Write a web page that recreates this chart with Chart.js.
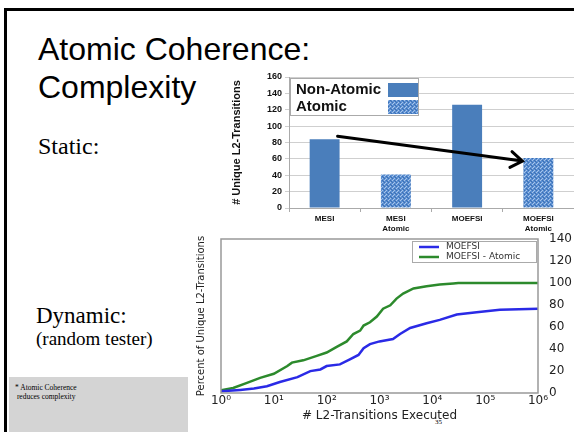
<!DOCTYPE html>
<html>
<head>
<meta charset="utf-8">
<script src="https://cdn.jsdelivr.net/npm/chart.js@4.4.0/dist/chart.umd.min.js"></script>
<style>
  body { margin: 0; width: 574px; height: 432px; overflow: hidden; background: #fff; position: relative; }
  #frame { position: absolute; left: 4px; top: 8px; width: 620px; height: 480px; border-left: 3px solid #000; border-top: 3px solid #000; }
  .t { position: absolute; white-space: nowrap; line-height: 1; color: #000; }
  .sans { font-family: "Liberation Sans", Arial, sans-serif; }
  .serif { font-family: "Liberation Serif", "Times New Roman", serif; }
  #note { position: absolute; left: 9px; top: 377px; width: 179px; height: 55px; background: #d4d4d4; }
  canvas { position: absolute; }
  #bars { left: 230px; top: 66px; }
  #lines { left: 195px; top: 226px; }
</style>
</head>
<body>
<div id="frame"></div>
<div class="t sans" style="left:38px; top:33px; font-size:32px;">Atomic Coherence:</div>
<div class="t sans" style="left:38px; top:71px; font-size:32px;">Complexity</div>
<div class="t serif" style="left:38px; top:134px; font-size:24px;">Static:</div>
<div class="t serif" style="left:36px; top:304px; font-size:23px;">Dynamic:</div>
<div class="t serif" style="left:36px; top:329px; font-size:19px;">(random tester)</div>
<div id="note"></div>
<div class="t serif" style="left:15px; top:383px; font-size:7.5px; line-height:9px;">* Atomic Coherence<br>&nbsp;reduces complexity</div>
<div class="t serif" style="left:435px; top:419px; font-size:7px;">35</div>

<canvas id="bars" width="344" height="170"></canvas>
<canvas id="lines" width="379" height="206"></canvas>

<script>
// static: unique L2 transitions per protocol
const barLabels = [['MESI'], ['MESI', 'Atomic'], ['MOEFSI'], ['MOEFSI', 'Atomic']];
const nonAtomic = [84, null, 126, null];
const atomic = [null, 41, null, 61];

// dynamic: random tester, percent of unique transitions vs executed transitions
const blueX = [1, 2.3, 4.2, 7.4, 13, 28, 49, 76, 100, 178, 275, 400, 500, 660, 1000, 1800, 2450, 3800, 7800, 13800, 29000, 69000, 190000, 1000000];
const blueY = [1.5, 2.8, 4, 6.1, 10, 14.4, 19.9, 21.4, 24.5, 26, 30.6, 34.6, 40.7, 44.4, 46.9, 49, 53.6, 59.1, 63.4, 66.5, 71.4, 73.5, 75.7, 76.6];
const greenX = [1, 1.7, 3.1, 5.5, 10, 18, 22, 36, 65, 100, 155, 240, 320, 430, 500, 660, 890, 1170, 1600, 2100, 2800, 4400, 7800, 13800, 25000, 31000, 1000000];
const greenY = [2.5, 4.6, 9.2, 13.8, 17.5, 24.5, 27.6, 29.7, 33.7, 36.8, 42, 46.9, 53.6, 56.7, 61.3, 64.3, 69.5, 76.6, 79.7, 85.8, 90.4, 95, 97.1, 98.6, 99.6, 100, 100];
const decades = [1, 10, 100, 1000, 10000, 100000, 1000000];
const decadeLabels = ['10⁰', '10¹', '10²', '10³', '10⁴', '10⁵', '10⁶'];

function dotPattern(ctx) {
  const c = document.createElement('canvas');
  c.width = 4; c.height = 4;
  const g = c.getContext('2d');
  g.fillStyle = '#5b8fd2'; g.fillRect(0, 0, 4, 4);
  g.fillStyle = '#a8c4e8'; g.fillRect(0, 0, 1, 1); g.fillRect(2, 2, 1, 1); g.fillRect(3, 1, 1, 1);
  g.fillStyle = '#3d70b3'; g.fillRect(2, 0, 1, 1); g.fillRect(0, 2, 1, 1); g.fillRect(1, 3, 1, 1);
  return ctx.createPattern(c, 'repeat');
}

const barExtras = {
  id: 'barExtras',
  afterDatasetsDraw(chart) {
    const ctx = chart.ctx;
    const a = chart.chartArea;
    // legend box, swatch after the text
    ctx.save();
    ctx.fillStyle = '#fff';
    ctx.strokeStyle = '#aaa';
    ctx.lineWidth = 1;
    ctx.fillRect(a.left + 1, a.top + 1, 128, 37);
    ctx.strokeRect(a.left + 1.5, a.top + 1.5, 128, 37);
    ctx.font = 'bold 15px "Liberation Sans", Arial';
    ctx.textBaseline = 'middle';
    chart.data.datasets.forEach((ds, i) => {
      const y = a.top + 13 + i * 17;
      ctx.fillStyle = '#111';
      ctx.fillText(ds.label, a.left + 7, y);
      ctx.fillStyle = ds.backgroundColor;
      ctx.fillRect(a.left + 99, y - 7, 30, 14);
    });
    // arrow from MESI bar to MOEFSI Atomic bar
    const b0 = chart.getDatasetMeta(0).data[0];
    const b3 = chart.getDatasetMeta(1).data[3];
    const x1 = b0.x + b0.width / 2 - 2, y1 = b0.y - 3;
    const x2 = b3.x - b3.width / 2 - 1, y2 = b3.y + 3;
    const ang = Math.atan2(y2 - y1, x2 - x1);
    ctx.strokeStyle = '#000';
    ctx.lineWidth = 3;
    ctx.lineCap = 'round';
    ctx.beginPath();
    ctx.moveTo(x1, y1);
    ctx.lineTo(x2, y2);
    ctx.moveTo(x2 - 14 * Math.cos(ang - 0.6), y2 - 14 * Math.sin(ang - 0.6));
    ctx.lineTo(x2, y2);
    ctx.lineTo(x2 - 14 * Math.cos(ang + 0.6), y2 - 14 * Math.sin(ang + 0.6));
    ctx.stroke();
    ctx.restore();
  }
};

const barCtx = document.getElementById('bars').getContext('2d');
new Chart(barCtx, {
  type: 'bar',
  data: {
    labels: barLabels,
    datasets: [
      { label: 'Non-Atomic', data: nonAtomic, backgroundColor: '#4a7ebb', grouped: false, barPercentage: 0.42, categoryPercentage: 1 },
      { label: 'Atomic', data: atomic, backgroundColor: dotPattern(barCtx), grouped: false, barPercentage: 0.42, categoryPercentage: 1 }
    ]
  },
  options: {
    responsive: false,
    animation: false,
    layout: { padding: { top: 11, right: 0 } },
    plugins: { legend: { display: false }, tooltip: { enabled: false } },
    scales: {
      x: {
        grid: { drawOnChartArea: false, offset: true, tickLength: 4, color: '#aaa' },
        border: { color: '#aaa' },
        ticks: { font: { family: 'Liberation Sans', size: 8, weight: 'bold' }, color: '#111', maxRotation: 0, autoSkip: false, padding: 2 },
        afterFit: s => { s.height = 28; }
      },
      y: {
        min: 0, max: 160,
        ticks: { stepSize: 20, font: { family: 'Liberation Sans', size: 9, weight: 'bold' }, color: '#111', padding: 3 },
        grid: { color: '#cfcfcf', tickLength: 4 },
        border: { color: '#aaa' },
        title: { display: true, text: '# Unique L2-Transitions', font: { family: 'Liberation Sans', size: 11, weight: 'bold' }, color: '#111', padding: 0 },
        afterFit: s => { s.width = 59; }
      }
    }
  },
  plugins: [barExtras]
});

const lineExtras = {
  id: 'lineExtras',
  afterDatasetsDraw(chart) {
    const ctx = chart.ctx;
    const a = chart.chartArea;
    ctx.save();
    ctx.strokeStyle = '#999';
    ctx.lineWidth = 1.5;
    ctx.strokeRect(a.left, a.top, a.right - a.left, a.bottom - a.top);
    // legend, upper right
    const w = 124, h = 21, lx = a.right - w - 2, ly = a.top + 2;
    ctx.fillStyle = '#fff';
    ctx.fillRect(lx, ly, w, h);
    ctx.strokeStyle = '#aaa';
    ctx.lineWidth = 1;
    ctx.strokeRect(lx + 0.5, ly + 0.5, w, h);
    ctx.font = '9px "DejaVu Sans"';
    ctx.textBaseline = 'middle';
    chart.data.datasets.forEach((ds, i) => {
      const y = ly + 6 + i * 10;
      ctx.strokeStyle = ds.borderColor;
      ctx.lineWidth = 2.5;
      ctx.beginPath();
      ctx.moveTo(lx + 7, y);
      ctx.lineTo(lx + 27, y);
      ctx.stroke();
      ctx.fillStyle = '#333';
      ctx.fillText(ds.label, lx + 34, y);
    });
    ctx.restore();
  }
};

const tickFont = { family: 'DejaVu Sans', size: 12 };
new Chart(document.getElementById('lines'), {
  type: 'line',
  data: {
    datasets: [
      { label: 'MOEFSI', data: blueX.map((x, i) => ({ x: x, y: blueY[i] })), borderColor: '#2a2ae6', borderWidth: 2.5, pointRadius: 0, tension: 0 },
      { label: 'MOEFSI - Atomic', data: greenX.map((x, i) => ({ x: x, y: greenY[i] })), borderColor: '#2c8a2c', borderWidth: 2.5, pointRadius: 0, tension: 0 }
    ]
  },
  options: {
    responsive: false,
    animation: false,
    layout: { padding: { top: 13, bottom: 9 } },
    plugins: { legend: { display: false }, tooltip: { enabled: false } },
    scales: {
      x: {
        type: 'logarithmic', min: 1, max: 1000000,
        afterBuildTicks: s => { s.ticks = decades.map(v => ({ value: v })); },
        ticks: { callback: (v, i) => decadeLabels[i], font: tickFont, color: '#222', maxRotation: 0, autoSkip: false, padding: 1 },
        grid: { display: false, drawTicks: false },
        border: { display: false },
        title: { display: true, text: '# L2-Transitions Executed', font: { family: 'DejaVu Sans', size: 12 }, color: '#222', padding: 0 },
        afterFit: s => { s.height = 30; }
      },
      y: {
        position: 'right', min: 0, max: 140,
        ticks: { stepSize: 20, font: tickFont, color: '#222', padding: 3 },
        grid: { display: false },
        border: { display: false },
        afterFit: s => { s.width = 36; }
      },
      yl: {
        position: 'left', min: 0, max: 1,
        ticks: { display: false },
        grid: { display: false },
        border: { display: false },
        title: { display: true, text: 'Percent of Unique L2-Transitions', font: { family: 'DejaVu Sans', size: 10 }, color: '#222', padding: 0 },
        afterFit: s => { s.width = 26; }
      }
    }
  },
  plugins: [lineExtras]
});
</script>
</body>
</html>
